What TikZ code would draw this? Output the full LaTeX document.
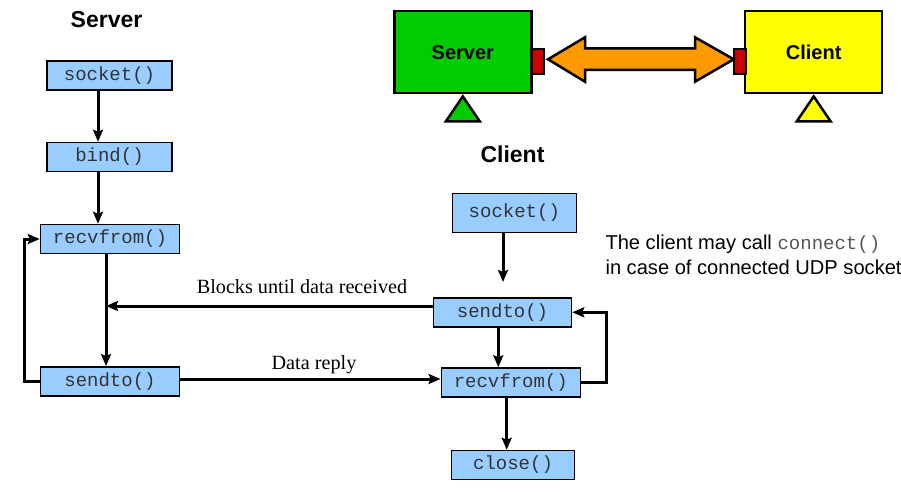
\documentclass[tikz,border=0pt]{standalone}
\usepackage{fontspec}
\setmainfont{Liberation Serif}
\setsansfont{Liberation Sans}
\setmonofont{Liberation Mono}
\usetikzlibrary{arrows.meta}
\definecolor{boxblue}{HTML}{99CCFF}
\definecolor{srvgreen}{HTML}{00CC00}
\definecolor{cliyellow}{HTML}{FFFF00}
\definecolor{portred}{HTML}{CC0000}
\definecolor{linkorange}{HTML}{FF9900}
\definecolor{monogray}{HTML}{333333}
\definecolor{notegray}{HTML}{555555}
\begin{document}
\begin{tikzpicture}[x=1pt,y=-1pt,
  callbox/.style={draw=black,line width=1.5pt,fill=boxblue,inner sep=0pt,
    minimum height=29pt,font=\fontsize{19}{22}\selectfont\ttfamily,text=monogray},
  flow/.style={line width=3pt,-{Stealth[length=12pt,width=10pt,inset=2pt]}},
  title/.style={font=\fontsize{23}{27}\selectfont\sffamily\bfseries,anchor=base},
  lbl/.style={font=\fontsize{20.2}{24}\selectfont\rmfamily,anchor=base},
  note/.style={font=\fontsize{20.1}{24}\selectfont\sffamily,anchor=base west},
  bigbox/.style={draw=black,line width=2.5pt,inner sep=0pt,minimum width=137pt,minimum height=82pt,
    font=\fontsize{20}{24}\selectfont\sffamily\bfseries},
  port/.style={draw=black,line width=2pt,fill=portred,inner sep=0pt,minimum width=12pt,minimum height=25pt},
  foot/.style={draw=black,line width=2.5pt}
]
\useasboundingbox (0,0) rectangle (901,492);

% ---- top overview ----
\node[bigbox,fill=srvgreen] (topS) at (462.8,52.2) {Server};
\node[bigbox,fill=cliyellow] (topC) at (813.7,52.2) {Client};
\node[port] (portS) at (538,61.2) {};
\node[port] (portC) at (740,61.2) {};
\draw[foot,fill=srvgreen] (topS.south) ++(0,2) coordinate (triS) -- ++(-17,25) -- ++(34,0) -- cycle;
\draw[foot,fill=cliyellow] (topC.south) ++(0,2) coordinate (triC) -- ++(-17,25) -- ++(34,0) -- cycle;
\draw[line width=2.5pt,fill=linkorange,line join=miter]
  (portS.east) ++(3,-1.9) coordinate (lnkL)
  -- ++(37,-22) -- ++(0,11) -- ++(110,0) -- ++(0,-11) -- ++(38.7,22)
  -- ++(-38.7,22.4) -- ++(0,-11.7) -- ++(-110,0) -- ++(0,11.7) -- cycle;

% ---- titles ----
\node[title] (tS) at (106.5,28) {Server};
\node[title] (tC) at (512.5,162) {Client};

% ---- server column ----
\node[callbox,minimum width=125pt] (sSock) at (109.5,75.5) {socket()};
\node[callbox,minimum width=125pt] (sBind) at (109.5,157) {bind()};
\node[callbox,minimum width=139pt] (sRecv) at (110,239) {recvfrom()};
\node[callbox,minimum width=139pt] (sSend) at (110,381.3) {sendto()};

% ---- client column ----
\node[callbox,minimum width=124pt,minimum height=39pt] (cSock) at (514.3,212.8) {socket()};
\node[callbox,minimum width=138pt] (cSend) at (502.5,312.3) {sendto()};
\node[callbox,minimum width=139pt] (cRecv) at (510.8,382.5) {recvfrom()};
\node[callbox,minimum width=123pt] (cClose) at (513,465) {close()};

% ---- server arrows ----
\draw[flow] (sSock.south -| 98,0) -- (sBind.north -| 98,0);
\draw[flow] (sBind.south -| 98,0) -- (sRecv.north -| 98,0);
\draw[flow] (sRecv.south -| 106,0) -- (sSend.north -| 106,0);
\draw[flow] (sSend.west) -- (sSend.west -| 24,0) -- (sRecv.west -| 24,0) -- (sRecv.west);

% ---- exchanges ----
\coordinate (blkEnd) at (106,306);
\draw[flow] (cSend.west |- blkEnd) -- (blkEnd);
\node[lbl] (lblBlk) at (302,293) {Blocks until data received};
\draw[flow] (sSend.east |- 0,379) -- (cRecv.west |- 0,379);
\node[lbl] (lblRep) at (314,369) {Data reply};

% ---- client arrows ----
\coordinate (cConn) at (503,282);
\draw[flow] (cSock.south -| cConn) -- (cConn);
\draw[flow] (cSend.south -| 498.3,0) -- (cRecv.north -| 498.3,0);
\draw[flow] (cRecv.south -| 506.7,0) -- (cClose.north -| 506.7,0);
\draw[flow] (cRecv.east) -- (cRecv.east -| 606,0) -- (cSend.east -| 606,0) -- (cSend.east);

% ---- note ----
\node[note] (n1) at (602,249) {The client may call {\fontsize{19}{22}\selectfont\ttfamily\color{notegray}connect()}};
\node[note] (n2) at (602,274) {in case of connected UDP socket};
\end{tikzpicture}
\end{document}
